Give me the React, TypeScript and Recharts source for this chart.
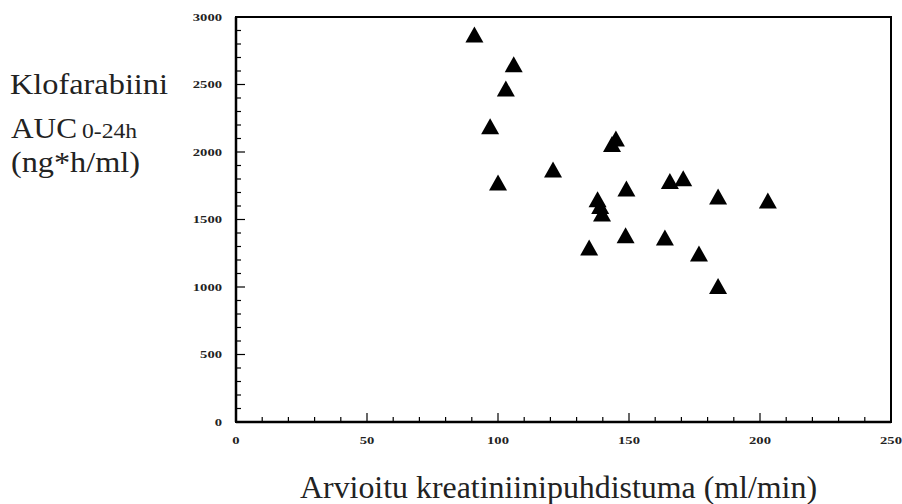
import React from 'react';
import { ScatterChart, Scatter, XAxis, YAxis, ReferenceArea } from 'recharts';

const clearance = [91, 106, 103, 97, 100, 121, 145, 143.5, 138, 139, 139.7, 149, 165.6, 170.7, 184, 203, 134.8, 148.7, 163.7, 176.7, 184];
const auc = [2870, 2650, 2470, 2190, 1775, 1870, 2100, 2060, 1650, 1600, 1545, 1730, 1785, 1805, 1670, 1640, 1292, 1383, 1366, 1248, 1008];

const xTicks = [0, 10, 20, 30, 40, 50, 60, 70, 80, 90, 100, 110, 120, 130, 140, 150, 160, 170, 180, 190, 200, 210, 220, 230, 240, 250];
const xLabelled = [0, 50, 100, 150, 200, 250];
const yTicks = [0, 100, 200, 300, 400, 500, 600, 700, 800, 900, 1000, 1100, 1200, 1300, 1400, 1500, 1600, 1700, 1800, 1900, 2000, 2100, 2200, 2300, 2400, 2500, 2600, 2700, 2800, 2900, 3000];
const yLabelled = [0, 500, 1000, 1500, 2000, 2500, 3000];

const xTitle = 'Arvioitu kreatiniinipuhdistuma (ml/min)';
const yTitle1 = 'Klofarabiini';
const yTitle2a = 'AUC';
const yTitle2b = '0-24h';
const yTitle3 = '(ng*h/ml)';

const data = clearance.map((c, i) => ({ x: c, y: auc[i] }));

const tickFont = { fontFamily: '"Liberation Serif", serif', fontWeight: 700, fontSize: 10, fill: '#222' };

const XTick = (props: any) => {
  const { x, y, payload } = props;
  const v = payload.value;
  const major = xLabelled.includes(v);
  const s = String(v);
  return (
    <g>
      {v !== 0 && v !== 250 && (
        <line x1={x} x2={x} y1={y} y2={y - (major ? 9 : 5)} stroke="#000" strokeWidth={1.2} />
      )}
      {major && (
        <text x={x} y={y + 22} textAnchor="middle" {...tickFont} textLength={s.length * 7.3} lengthAdjust="spacingAndGlyphs">
          {s}
        </text>
      )}
    </g>
  );
};

const YTick = (props: any) => {
  const { x, y, payload } = props;
  const v = payload.value;
  const major = yLabelled.includes(v);
  const s = String(v);
  return (
    <g>
      {v !== 0 && v !== 3000 && (
        <line x1={x} x2={x + (major ? 9 : 5)} y1={y} y2={y} stroke="#000" strokeWidth={1.2} />
      )}
      {major && (
        <text x={x - 14} y={y + 3.5} textAnchor="end" {...tickFont} textLength={s.length * 7.3} lengthAdjust="spacingAndGlyphs">
          {s}
        </text>
      )}
    </g>
  );
};

const Triangle = (props: any) => {
  const { cx, cy } = props;
  if (cx == null || cy == null) return null;
  const w = 18;
  const h = 16;
  return (
    <polygon
      points={`${cx - w / 2},${cy + h / 2} ${cx + w / 2},${cy + h / 2} ${cx},${cy - h / 2}`}
      fill="#000"
    />
  );
};

const titleFont = { fontFamily: '"Liberation Serif", serif', fill: '#222' };

export default function App() {
  return (
    <div style={{ position: 'absolute', left: 0, top: 0, width: 902, height: 504, background: '#fff' }}>
      <ScatterChart width={902} height={504} margin={{ top: 17, right: 11, bottom: 52, left: 196 }}>
        <XAxis
          type="number"
          dataKey="x"
          domain={[0, 250]}
          ticks={xTicks}
          interval={0}
          tickSize={0}
          tickMargin={0}
          height={30}
          tickLine={false}
          axisLine={{ stroke: '#000', strokeWidth: 2.5 }}
          tick={<XTick />}
          allowDataOverflow
        />
        <YAxis
          type="number"
          dataKey="y"
          domain={[0, 3000]}
          ticks={yTicks}
          interval={0}
          tickSize={0}
          tickMargin={0}
          width={40}
          tickLine={false}
          axisLine={{ stroke: '#000', strokeWidth: 2.5 }}
          tick={<YTick />}
          allowDataOverflow
        />
        <ReferenceArea x1={0} x2={250} y1={0} y2={3000} fill="none" fillOpacity={0} stroke="#000" strokeWidth={2} />
        <Scatter data={data} shape={<Triangle />} isAnimationActive={false} />
      </ScatterChart>
      <svg width={902} height={504} style={{ position: 'absolute', left: 0, top: 0, pointerEvents: 'none' }}>
        <text x={10} y={94} fontSize={30} {...titleFont} textLength={158} lengthAdjust="spacingAndGlyphs">{yTitle1}</text>
        <text x={11} y={138} fontSize={30} {...titleFont} textLength={66} lengthAdjust="spacingAndGlyphs">{yTitle2a}</text>
        <text x={82} y={138} fontSize={21} {...titleFont} textLength={55} lengthAdjust="spacingAndGlyphs">{yTitle2b}</text>
        <text x={11} y={172} fontSize={29} {...titleFont} textLength={129} lengthAdjust="spacingAndGlyphs">{yTitle3}</text>
        <text x={300} y={498} fontSize={31} {...titleFont} textLength={517} lengthAdjust="spacingAndGlyphs">{xTitle}</text>
      </svg>
    </div>
  );
}
